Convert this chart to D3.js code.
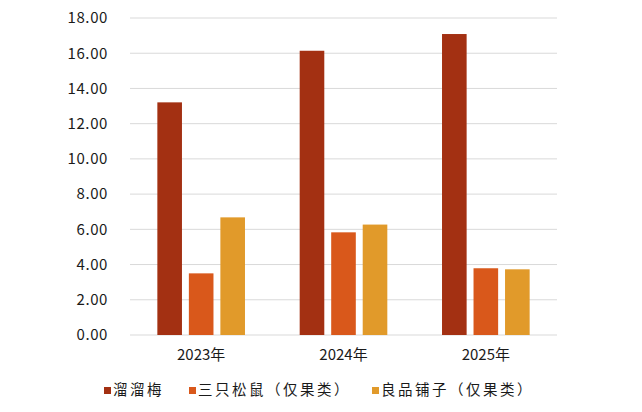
<!DOCTYPE html>
<html><head><meta charset="utf-8">
<script src="https://cdn.jsdelivr.net/npm/d3@7"></script>
<style>body{margin:0;background:#fff;}svg{display:block;}</style>
</head><body><svg id="c" width="642" height="412"></svg>
<script>
const categories = ["2023年", "2024年", "2025年"];
const seriesNames = ["溜溜梅", "三只松鼠（仅果类）", "良品铺子（仅果类）"];
const liuliumei = [13.21, 16.14, 17.09];
const sanzhisongshu = [3.50, 5.83, 3.79];
const liangpinpuzi = [6.68, 6.27, 3.73];
const yTicks = [0, 2, 4, 6, 8, 10, 12, 14, 16, 18];
const colors = ["#A33012", "#D9581B", "#E19A2A"];

(function () {
const series = [liuliumei, sanzhisongshu, liangpinpuzi];
const svg = d3.select("#c");
const mLeft = 130, mRight = 557, mTop = 18, mBottom = 335;

const x = d3.scaleBand().domain(categories).range([mLeft, mRight]).paddingInner(0).paddingOuter(0);
const xi = d3.scaleBand().domain(d3.range(series.length)).range([0, x.bandwidth()]).paddingInner(0.219).paddingOuter(0.868);
const y = d3.scaleLinear().domain([0, 18]).range([mBottom, mTop]);

const font = "'Noto Sans CJK SC', 'Noto Sans', sans-serif";

svg.append("g").selectAll("line").data(yTicks).join("line")
  .attr("x1", mLeft).attr("x2", mRight)
  .attr("y1", d => y(d)).attr("y2", d => y(d))
  .attr("stroke", "#d9d9d9").attr("stroke-width", 1);

const yAxis = d3.axisLeft(y).tickValues(yTicks).tickSize(0).tickPadding(22).tickFormat(d => d3.format(".2f")(d));
svg.append("g").attr("transform", `translate(${mLeft},0)`).call(yAxis)
  .call(g => g.select(".domain").remove())
  .selectAll("text").attr("font-family", font).attr("font-size", 15).attr("letter-spacing", 0.6).attr("fill", "#1a1a1a");

series.forEach((vals, si) => {
  svg.append("g").selectAll("rect").data(vals).join("rect")
    .attr("x", (d, i) => x(categories[i]) + xi(si))
    .attr("width", xi.bandwidth())
    .attr("y", d => y(d))
    .attr("height", d => y(0) - y(d))
    .attr("fill", colors[si]);
});

const xAxis = d3.axisBottom(x).tickSize(0).tickPadding(14);
svg.append("g").attr("transform", `translate(0,${mBottom})`).call(xAxis)
  .call(g => g.select(".domain").remove())
  .selectAll("text").attr("font-family", font).attr("font-size", 15).attr("fill", "#1a1a1a");

const legendX = [104, 189, 372];
const lg = svg.append("g");
seriesNames.forEach((name, i) => {
  lg.append("rect").attr("x", legendX[i]).attr("y", 387).attr("width", 7).attr("height", 7).attr("fill", colors[i]);
  lg.append("text").attr("x", legendX[i] + 9).attr("y", 391).attr("dominant-baseline", "middle")
    .attr("font-family", font).attr("font-size", 14.5).attr("letter-spacing", 2.5).attr("fill", "#1a1a1a").text(name);
});
})();
</script></body></html>
